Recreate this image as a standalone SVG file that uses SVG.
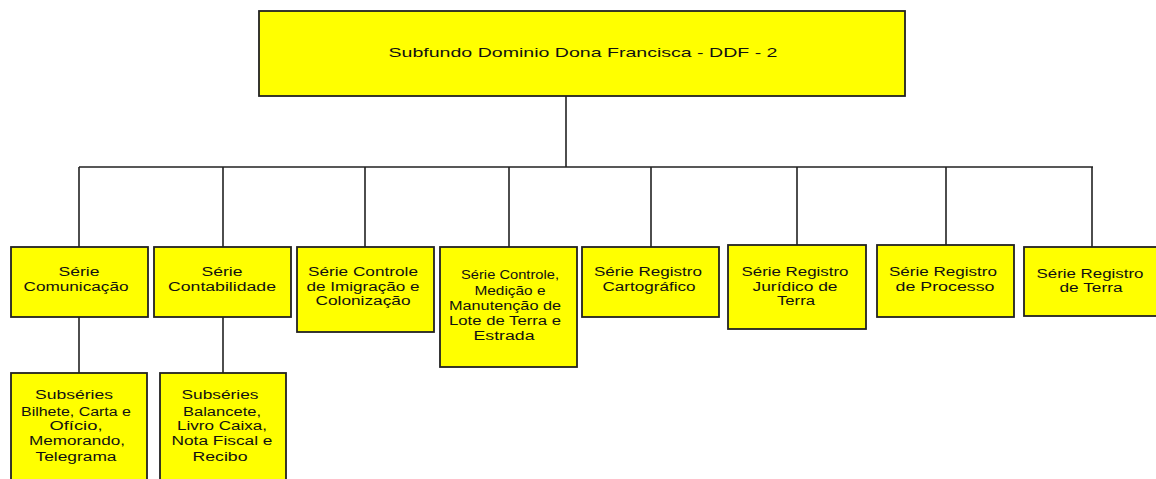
<svg xmlns="http://www.w3.org/2000/svg" width="1156" height="479" viewBox="0 0 1156 479">
<style>
.box{fill:#ffff00;stroke:#222;stroke-width:1.8}
.t{font-family:"Liberation Sans",Arial,sans-serif;font-size:12px;fill:#111;text-anchor:middle}
.tt{font-family:"Liberation Sans",Arial,sans-serif;font-size:13px;fill:#111;text-anchor:middle}
.c{stroke:#222;stroke-width:1.6;fill:none}
</style>
<rect width="1156" height="479" fill="#fff"/>
<g id="connectors">
<path class="c" d="M566 96V167M79 167H1093M79 167V247M223 167V247M365 167V247M509 167V247M651 167V247M797 167V245M946 167V245M1092 167V247M79 316V373M223 316V373"/>
</g>
<g id="root">
<rect class="box" x="259" y="11" width="646" height="85"/>
<text class="tt" x="583" y="57" textLength="389" lengthAdjust="spacingAndGlyphs">Subfundo  Dominio Dona  Francisca - DDF - 2</text>
</g>
<g id="s1">
<rect class="box" x="11" y="247" width="137" height="70"/>
<text class="t" x="79" y="276" textLength="41" lengthAdjust="spacingAndGlyphs">Série</text>
<text class="t" x="76" y="291" textLength="105" lengthAdjust="spacingAndGlyphs">Comunicação</text>
</g>
<g id="s2">
<rect class="box" x="154" y="247" width="137" height="70"/>
<text class="t" x="222" y="276" textLength="41" lengthAdjust="spacingAndGlyphs">Série</text>
<text class="t" x="222" y="291" textLength="108" lengthAdjust="spacingAndGlyphs">Contabilidade</text>
</g>
<g id="s3">
<rect class="box" x="297" y="247" width="137" height="85"/>
<text class="t" x="363" y="276" textLength="110" lengthAdjust="spacingAndGlyphs">Série Controle</text>
<text class="t" x="363" y="291" textLength="113" lengthAdjust="spacingAndGlyphs">de Imigração e</text>
<text class="t" x="363" y="305" textLength="95" lengthAdjust="spacingAndGlyphs">Colonização</text>
</g>
<g id="s4">
<rect class="box" x="440" y="247" width="137" height="120"/>
<text class="t" x="510" y="279" textLength="98" lengthAdjust="spacingAndGlyphs">Série Controle,</text>
<text class="t" x="510" y="295" textLength="71" lengthAdjust="spacingAndGlyphs">Medição e</text>
<text class="t" x="505" y="310" textLength="112" lengthAdjust="spacingAndGlyphs">Manutenção de</text>
<text class="t" x="505" y="325" textLength="112" lengthAdjust="spacingAndGlyphs">Lote de Terra e</text>
<text class="t" x="504" y="340" textLength="61" lengthAdjust="spacingAndGlyphs">Estrada</text>
</g>
<g id="s5">
<rect class="box" x="582" y="247" width="137" height="70"/>
<text class="t" x="648" y="276" textLength="108" lengthAdjust="spacingAndGlyphs">Série Registro</text>
<text class="t" x="649" y="291" textLength="93" lengthAdjust="spacingAndGlyphs">Cartográfico</text>
</g>
<g id="s6">
<rect class="box" x="728" y="245" width="138" height="84"/>
<text class="t" x="795" y="276" textLength="107" lengthAdjust="spacingAndGlyphs">Série Registro</text>
<text class="t" x="795" y="291" textLength="85" lengthAdjust="spacingAndGlyphs">Jurídico de</text>
<text class="t" x="796" y="305" textLength="38" lengthAdjust="spacingAndGlyphs">Terra</text>
</g>
<g id="s7">
<rect class="box" x="877" y="245" width="137" height="72"/>
<text class="t" x="943" y="276" textLength="108" lengthAdjust="spacingAndGlyphs">Série Registro</text>
<text class="t" x="945" y="291" textLength="99" lengthAdjust="spacingAndGlyphs">de Processo</text>
</g>
<g id="s8">
<rect class="box" x="1024" y="247" width="140" height="69"/>
<text class="t" x="1090" y="278" textLength="107" lengthAdjust="spacingAndGlyphs">Série Registro</text>
<text class="t" x="1091" y="292" textLength="63" lengthAdjust="spacingAndGlyphs">de Terra</text>
</g>
<g id="sub1">
<rect class="box" x="11" y="373" width="136" height="112"/>
<text class="t" x="74" y="399" textLength="78" lengthAdjust="spacingAndGlyphs">Subséries</text>
<text class="t" x="76" y="416" textLength="110" lengthAdjust="spacingAndGlyphs">Bilhete, Carta e</text>
<text class="t" x="76" y="430" textLength="53" lengthAdjust="spacingAndGlyphs">Ofício,</text>
<text class="t" x="77" y="445" textLength="96" lengthAdjust="spacingAndGlyphs">Memorando,</text>
<text class="t" x="76" y="461" textLength="81" lengthAdjust="spacingAndGlyphs">Telegrama</text>
</g>
<g id="sub2">
<rect class="box" x="160" y="373" width="126" height="112"/>
<text class="t" x="220" y="399" textLength="77" lengthAdjust="spacingAndGlyphs">Subséries</text>
<text class="t" x="222" y="416" textLength="78" lengthAdjust="spacingAndGlyphs">Balancete,</text>
<text class="t" x="222" y="430" textLength="90" lengthAdjust="spacingAndGlyphs">Livro Caixa,</text>
<text class="t" x="222" y="445" textLength="101" lengthAdjust="spacingAndGlyphs">Nota Fiscal e</text>
<text class="t" x="220" y="461" textLength="55" lengthAdjust="spacingAndGlyphs">Recibo</text>
</g>
</svg>
